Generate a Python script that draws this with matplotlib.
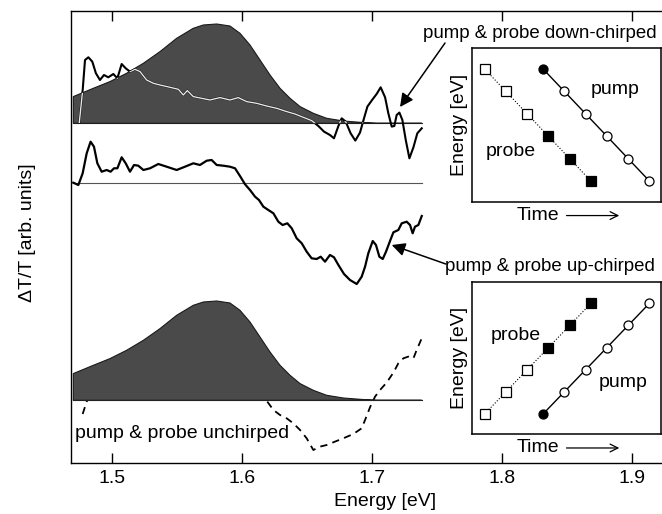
import numpy as np
import matplotlib
matplotlib.use('Agg')
import matplotlib.pyplot as plt

plt.rcParams['font.family'] = ['Liberation Sans', 'DejaVu Sans']
plt.rcParams['font.size'] = 14

# pump spectrum (shaded), same for the top and bottom traces
spec_e = [1.4705, 1.4859, 1.4987, 1.5115, 1.5244, 1.5372, 1.5500, 1.5628, 1.5705, 1.5808,
          1.5910, 1.5987, 1.6064, 1.6141, 1.6218, 1.6295, 1.6372, 1.6449, 1.6551, 1.6654,
          1.6782, 1.6910, 1.7038, 1.7385]
spec_h = [26.7, 35, 41.7, 50, 60, 71.7, 85, 95, 98.3, 99.3,
          97.3, 90, 78.3, 63.3, 48.3, 35, 25, 16.7, 10, 5,
          2.3, 1, 0, 0]

# pump & probe down-chirped
down_e = [1.4751, 1.4777, 1.4795, 1.4821, 1.4851, 1.4879, 1.4910, 1.4941, 1.4974, 1.5013,
          1.5044, 1.5077, 1.5108, 1.5141, 1.5179, 1.5218, 1.5269, 1.5321, 1.5372, 1.5449,
          1.5513, 1.5551, 1.5582, 1.5628, 1.5692, 1.5756, 1.5833, 1.5910, 1.5974, 1.6038,
          1.6115, 1.6192, 1.6269, 1.6346, 1.6410, 1.6474, 1.6538, 1.6590, 1.6633, 1.6679,
          1.6710, 1.6744, 1.6769, 1.6800, 1.6838, 1.6874, 1.6910, 1.6941, 1.6967, 1.7003,
          1.7038, 1.7069, 1.7103, 1.7128, 1.7154, 1.7174, 1.7192, 1.7213, 1.7236, 1.7262,
          1.7290, 1.7321, 1.7351, 1.7385]
down_v = [0.7, 33, 63.3, 66, 61.7, 50, 43.3, 48.3, 46, 49.3,
          45, 59.3, 55, 51.7, 54, 51.7, 43.3, 40, 38.3, 36,
          34, 28.3, 32.7, 26.7, 25, 23.3, 25.7, 23.3, 25.7, 21.7,
          20, 17.3, 15, 11.7, 9.3, 6, 2.7, -2.7, -8.3, -11.7,
          -15, -2.7, 5, 1.7, -10, -17.3, -9.3, 5, 16.7, 23.3,
          29.3, 36, 26, 10, -3.3, -2.7, 8.3, 10.7, 3.3, -16.7,
          -35, -24, -10, -5]

# pump & probe up-chirped
up_e = [1.4705, 1.4744, 1.4777, 1.4808, 1.4838, 1.4864, 1.4890, 1.4923, 1.4962, 1.4992,
        1.5018, 1.5044, 1.5077, 1.5108, 1.5141, 1.5172, 1.5205, 1.5244, 1.5295, 1.5359,
        1.5423, 1.5500, 1.5564, 1.5628, 1.5679, 1.5731, 1.5769, 1.5808, 1.5859, 1.5910,
        1.5949, 1.5987, 1.6026, 1.6064, 1.6103, 1.6133, 1.6167, 1.6205, 1.6244, 1.6282,
        1.6315, 1.6351, 1.6385, 1.6423, 1.6462, 1.6500, 1.6538, 1.6577, 1.6608, 1.6641,
        1.6679, 1.6710, 1.6744, 1.6787, 1.6833, 1.6885, 1.6923, 1.6949, 1.6974, 1.7008,
        1.7033, 1.7059, 1.7085, 1.7110, 1.7141, 1.7167, 1.7205, 1.7231, 1.7269, 1.7295,
        1.7315, 1.7333, 1.7359, 1.7385]
up_v = [0.6, -1.7, 10, 30, 41.6, 36.6, 20, 11.6, 13.3, 11.6,
        15, 15, 26, 20, 11.6, 18.3, 17.6, 13.3, 15, 19.3,
        16.6, 13.3, 16.6, 20, 18.3, 22.6, 23.3, 18.3, 17.6, 16.6,
        15, 7.3, -1, -6.7, -13.4, -16.7, -23.4, -26.7, -30, -38.4,
        -41.7, -40, -45, -55, -60, -68.4, -75, -75.7, -73.4, -78.4,
        -71.7, -74, -81.7, -90.7, -96.7, -100.7, -93.4, -83.4, -70, -57.7,
        -61.7, -73.4, -75.7, -68.4, -57.7, -49, -46.7, -40, -38.4, -41.7,
        -50, -43.4, -41.7, -32.7]

# pump & probe unchirped (hidden part under the spectrum left out)
flat_e = [1.4777, 1.4808, 1.4828, np.nan, 1.6197, 1.6244, 1.6295, 1.6346, 1.6397, 1.6449,
          1.6500, 1.6551, 1.6603, 1.6654, 1.6718, 1.6782, 1.6859, 1.6923, 1.6949, 1.6987,
          1.7026, 1.7064, 1.7115, 1.7167, 1.7205, 1.7244, 1.7282, 1.7321, 1.7346, 1.7385]
flat_v = [-13.7, -1.3, 3.7, np.nan, -1.3, -9.7, -14.7, -18, -23, -29.7,
          -38, -49.7, -46.3, -44.7, -41.3, -38, -33.7, -28, -19.7, -7,
          3.7, 10.3, 17.7, 27.7, 37, 42, 43.7, 42, 50.3, 62]

# vertical offsets of the three traces
off_down = 339.4
off_up = 279.4
off_flat = 62.4

# sketches of the chirp (insets)
probe_t = [0, 1, 2, 3, 4, 5]
pump_t = [2.75, 3.75, 4.75, 5.75, 6.75, 7.75]
levels_up = [0, 1, 2, 3, 4, 5]
levels_down = [5, 4, 3, 2, 1, 0]
probe_filled = [False, False, False, True, True, True]
pump_filled = [True, False, False, False, False, False]

fig = plt.figure(figsize=(6.62, 5.14), dpi=100)
ax = fig.add_axes([70.7 / 662, (514 - 462.7) / 514, (668 - 70.7) / 662, 451.7 / 514])

spec_e = np.array(spec_e)
spec_h = np.array(spec_h)
line_end = [spec_e[0], spec_e[-1]]

# top: spectrum + down-chirped trace (white where it runs inside the shading)
ax.plot(line_end, [off_down, off_down], color='#333333', lw=0.8, zorder=2)
poly_top = ax.fill(np.r_[spec_e, spec_e[::-1]], np.r_[off_down + spec_h, np.full(len(spec_e), off_down)],
                   facecolor='#4a4a4a', edgecolor='#1a1a1a', lw=0.8, zorder=2)[0]
ax.plot(down_e, off_down + np.array(down_v), color='black', lw=1.5, zorder=3)
inner = ax.plot(down_e, off_down + np.array(down_v), color='#e8e8e8', lw=1.0, zorder=4)[0]
inner.set_clip_path(poly_top)

# middle: up-chirped
ax.plot(line_end, [off_up, off_up], color='#555555', lw=0.8, zorder=2)
ax.plot(up_e, off_up + np.array(up_v), color='black', lw=1.6, zorder=3)

# bottom: unchirped
ax.plot(flat_e, off_flat + np.array(flat_v), color='black', lw=1.3, ls=(0, (4, 3)), zorder=2)
ax.fill(np.r_[spec_e, spec_e[::-1]], np.r_[off_flat + spec_h, np.full(len(spec_e), off_flat)],
        facecolor='#4a4a4a', edgecolor='#1a1a1a', lw=0.8, zorder=3)
ax.plot(line_end, [off_flat, off_flat], color='#222222', lw=0.8, zorder=4)

ax.set_xlim(1.4685, 1.9279)
ax.set_ylim(0, 451.7)
ax.set_xticks([1.5, 1.6, 1.7, 1.8, 1.9])
ax.set_yticks([])
ax.tick_params(axis='x', direction='in', top=True, length=7, width=1, pad=5)
for s in ax.spines.values():
    s.set_linewidth(1)

fig.text(385 / 662, 1 - 502 / 514, 'Energy [eV]', ha='center', va='center')
fig.text(28 / 662, 1 - 233 / 514, 'ΔT/T [arb. units]', rotation=90, ha='center', va='center')

ax.text(1.7393, 429.4, 'pump & probe down-chirped', ha='left', va='center', fontsize=13.4)
ax.text(1.7562, 196.0, 'pump & probe up-chirped', ha='left', va='center', fontsize=13.4)
ax.text(1.4718, 29.4, 'pump & probe unchirped', ha='left', va='center')

arrow = dict(arrowstyle='-|>', color='black', lw=1.1, mutation_scale=20, shrinkA=0, shrinkB=0)
ax.annotate('', xy=(1.7218, 355.7), xytext=(1.7564, 419.7), arrowprops=arrow)
ax.annotate('', xy=(1.7154, 217.7), xytext=(1.7570, 198.7), arrowprops=arrow)


def chirp_inset(rect, levels, probe_xy, pump_xy):
    ins = fig.add_axes(rect)
    ins.plot(probe_t, levels, color='black', lw=0.8, ls=':', zorder=1)
    ins.plot(pump_t, levels, color='black', lw=1.0, zorder=1)
    for t, e, f in zip(probe_t, levels, probe_filled):
        ins.plot(t, e, marker='s', ms=6.5, mec='black', mew=0.9,
                 mfc='black' if f else 'white', zorder=2)
    for t, e, f in zip(pump_t, levels, pump_filled):
        ins.plot(t, e, marker='o', ms=6.5, mec='black', mew=0.9,
                 mfc='black' if f else 'white', zorder=2)
    ins.set_xlim(-0.58, 8.28)
    ins.set_ylim(-0.92, 5.95)
    ins.set_xticks([])
    ins.set_yticks([])
    for s in ins.spines.values():
        s.set_linewidth(1.1)
    ins.set_ylabel('Energy [eV]', labelpad=3)
    ins.text(0.351, -0.09, 'Time', transform=ins.transAxes, ha='center', va='center')
    ins.annotate('', xy=(0.78, -0.09), xytext=(0.50, -0.09), xycoords='axes fraction',
                 arrowprops=dict(arrowstyle='->', lw=0.9, color='black', shrinkA=0, shrinkB=0))
    ins.text(probe_xy[0], probe_xy[1], 'probe', ha='center', va='center')
    ins.text(pump_xy[0], pump_xy[1], 'pump', ha='center', va='center')
    return ins


chirp_inset([472.3 / 662, (514 - 201.7) / 514, 188.4 / 662, 154 / 514],
            levels_down, (1.23, 1.33), (6.12, 4.07))
chirp_inset([472.3 / 662, (514 - 434.3) / 514, 188.4 / 662, 152 / 514],
            levels_up, (1.45, 3.56), (6.53, 1.41))

fig.savefig('out.png', dpi=100)
